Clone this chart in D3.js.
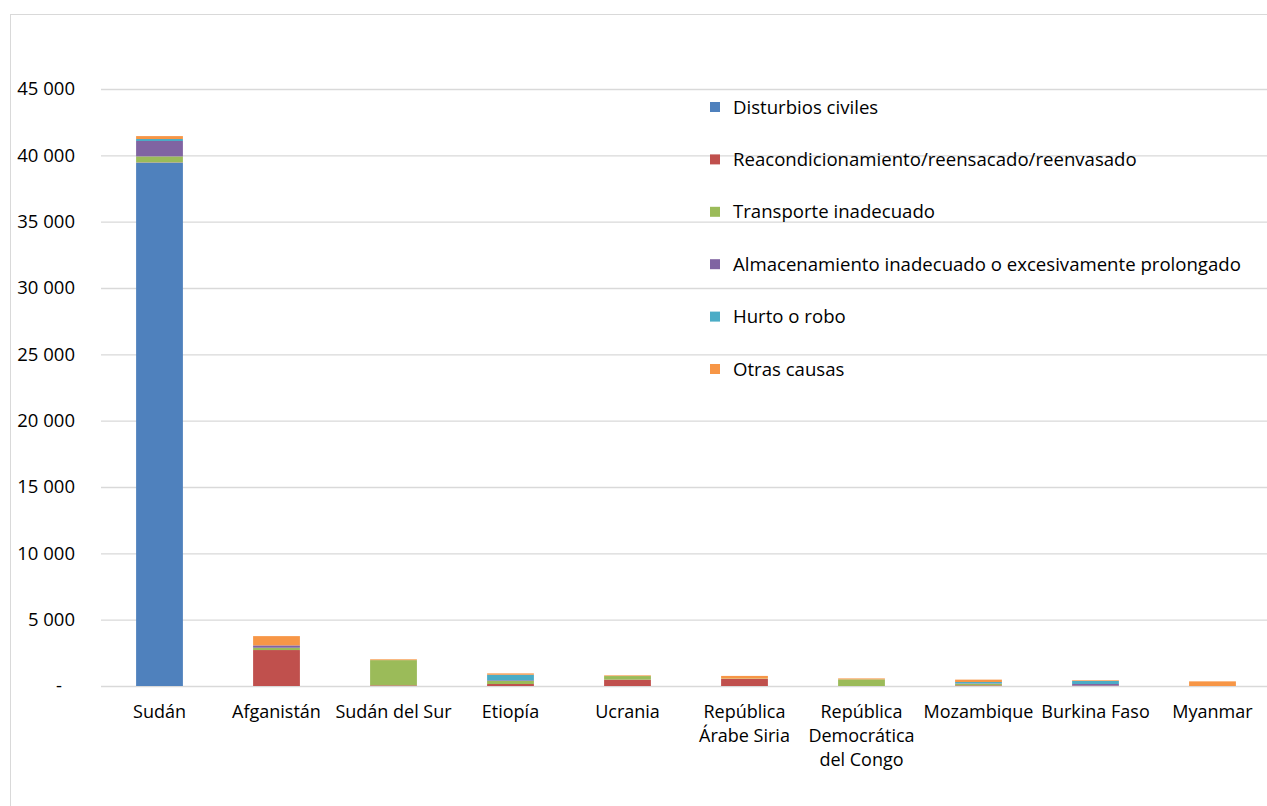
<!DOCTYPE html>
<html><head><meta charset="utf-8">
<script src="https://cdn.jsdelivr.net/npm/d3@7"></script>
<style>body{margin:0;background:#fff;} svg{display:block;font-family:"Open Sans",sans-serif;}</style>
</head><body>
<svg id="c" width="1267" height="806"></svg>
<script>
const categories = ["Sudán","Afganistán","Sudán del Sur","Etiopía","Ucrania","República Árabe Siria","República Democrática del Congo","Mozambique","Burkina Faso","Myanmar"];
const categoryLines = [["Sudán"],["Afganistán"],["Sudán del Sur"],["Etiopía"],["Ucrania"],["República","Árabe Siria"],["República","Democrática","del Congo"],["Mozambique"],["Burkina Faso"],["Myanmar"]];
const seriesNames = ["Disturbios civiles","Reacondicionamiento/reensacado/reenvasado","Transporte inadecuado","Almacenamiento inadecuado o excesivamente prolongado","Hurto o robo","Otras causas"];
const disturbios      = [39450,    0,    0,   0,   0,   0,   0,   0,   0,   0];
const reacond         = [   20, 2710,   50, 150, 480, 530,   0,  50,  30,   0];
const transporte      = [  450,  175, 1900, 230, 270,  30, 500, 120,   0,   0];
const almacenamiento  = [ 1160,  175,    0,  50,   0,   0,   0,  30, 120,   0];
const hurto           = [  150,    0,    0, 420,   0,   0,   0, 100, 230,   0];
const otras           = [  220,  700,   60, 100,  50, 200,  70, 180,  50, 350];
const yTicks = [0,5000,10000,15000,20000,25000,30000,35000,40000,45000];
const colors = ["#4f81bd","#c0504d","#9bbb59","#8064a2","#4bacc6","#f79646"];

const seriesArrays = [disturbios,reacond,transporte,almacenamiento,hurto,otras];
const table = categories.map((c,i)=>{const o={cat:c}; seriesNames.forEach((s,j)=>o[s]=seriesArrays[j][i]); return o;});
const stack = d3.stack().keys(seriesNames)(table);

const svg = d3.select("#c");
svg.append("rect").attr("x",10.5).attr("y",14.5).attr("width",1275).attr("height",820).attr("fill","none").attr("stroke","#d9d9d9");

const x = d3.scaleBand().domain(categories).range([101,1271]).paddingInner(0.6).paddingOuter(0.3);
const y = d3.scaleLinear().domain([0,45000]).range([686,89]);

const fmt = v => v===0 ? "-" : d3.format(",")(v).replace(/,/g," ");
const yAxis = svg.append("g").attr("transform","translate(101,0)")
  .call(d3.axisLeft(y).tickValues(yTicks).tickSize(-1170).tickFormat(fmt).tickPadding(26));
yAxis.select(".domain").remove();
yAxis.selectAll(".tick line").attr("stroke","#d9d9d9").attr("stroke-width",1.3);
yAxis.selectAll(".tick text").attr("font-size",18.5).attr("fill","#000").attr("font-family","Open Sans");
yAxis.selectAll(".tick").filter(d=>d===0).select("text").attr("dx",-13);

const g = svg.append("g");
stack.forEach((layer,j)=>{
  g.selectAll(null).data(layer).enter().append("rect")
   .attr("x",d=>x(d.data.cat)).attr("width",x.bandwidth())
   .attr("y",d=>y(d[1])).attr("height",d=>Math.max(0,y(d[0])-y(d[1])))
   .attr("fill",colors[j]);
});

const xl = svg.append("g");
categories.forEach((c,i)=>{
  const t = xl.append("text").attr("x",x(c)+x.bandwidth()/2).attr("y",718).attr("text-anchor","middle")
    .attr("font-size",18).attr("fill","#000");
  categoryLines[i].forEach((ln,k)=>t.append("tspan").attr("x",x(c)+x.bandwidth()/2).attr("dy",k===0?0:24).text(ln));
});

const lg = svg.append("g");
seriesNames.forEach((s,j)=>{
  const yy = 107 + j*52.4;
  lg.append("rect").attr("x",710).attr("y",yy-5).attr("width",10).attr("height",10).attr("fill",colors[j]);
  lg.append("text").attr("x",733).attr("y",yy).attr("dy","0.35em").attr("font-size",18.6).attr("fill","#000").text(s);
});
</script>
</body></html>
